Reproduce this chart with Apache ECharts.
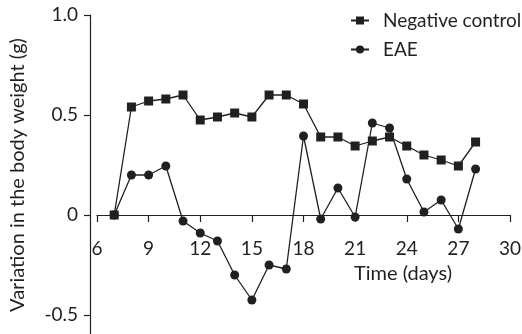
<!DOCTYPE html>
<html>
<head>
<meta charset="utf-8">
<script src="https://cdn.jsdelivr.net/npm/echarts@6/dist/echarts.min.js"></script>
<style>
  html, body { margin: 0; padding: 0; background: #fff; }
  #main { width: 522px; height: 334px; }
</style>
</head>
<body>
<div id="main"></div>
<script>
// days of measurement
var days = [7, 8, 9, 10, 11, 12, 13, 14, 15, 16, 17, 18, 19, 20, 21, 22, 23, 24, 25, 26, 27, 28];
// variation in body weight (g)
var negativeControl = [0, 0.54, 0.57, 0.58, 0.60, 0.475, 0.49, 0.51, 0.49, 0.60, 0.60, 0.555, 0.39, 0.39, 0.345, 0.37, 0.39, 0.345, 0.30, 0.275, 0.245, 0.365];
var eae = [0, 0.20, 0.20, 0.245, -0.03, -0.09, -0.13, -0.30, -0.425, -0.25, -0.27, 0.395, -0.02, 0.135, -0.01, 0.46, 0.435, 0.18, 0.015, 0.075, -0.07, 0.23];
var yTicks = [-0.5, 0, 0.5, 1.0];

var ink = '#231f20';
var font = 'Lato';

var myChart = echarts.init(document.getElementById('main'));

function pairs(vals) {
  return days.map(function (d, i) { return [d, vals[i]]; });
}

var option = {
  animation: false,
  textStyle: { fontFamily: font, color: ink },
  legend: {
    orient: 'vertical',
    left: 345,
    top: 6,
    itemWidth: 18,
    itemHeight: 10,
    itemGap: 10,
    textStyle: { fontFamily: font, fontSize: 19, color: ink, padding: [0, 0, 0, 9] },
    data: ['Negative control', 'EAE']
  },
  grid: { left: 97, right: 12, top: 15, bottom: -1, outerBoundsMode: 'none', containLabel: false },
  xAxis: {
    type: 'value',
    min: 6,
    max: 30,
    interval: 3,
    // x axis sits at y = 0 (grid is 200px per unit, 0 is 120px above the bottom)
    offset: -120,
    splitLine: { show: false },
    axisLine: { onZero: false, lineStyle: { color: ink, width: 1.2 } },
    axisTick: { length: 7, lineStyle: { color: ink, width: 1.2 } },
    axisLabel: { margin: 24, fontSize: 19, color: ink, fontFamily: font }
  },
  yAxis: {
    type: 'value',
    min: -0.6,
    max: 1.0,
    offset: 7,
    splitLine: { show: false },
    axisLine: { show: true, onZero: false, lineStyle: { color: ink, width: 1.2 } },
    axisTick: { show: true, length: 6, customValues: yTicks, lineStyle: { color: ink, width: 1.2 } },
    axisLabel: {
      margin: 12, fontSize: 19, color: ink, fontFamily: font,
      customValues: yTicks,
      formatter: function (v) { return v === 0 ? '0' : v.toFixed(1); }
    },
    name: 'Variation in the body weight (g)',
    nameLocation: 'middle',
    nameGap: 62,
    nameTextStyle: { fontSize: 20, color: ink, fontFamily: font }
  },
  graphic: [{
    type: 'text',
    x: 403,
    y: 274,
    style: {
      text: 'Time (days)',
      fontSize: 20,
      fontFamily: font,
      fill: ink,
      align: 'center',
      verticalAlign: 'middle'
    }
  }],
  series: [{
    name: 'Negative control',
    type: 'line',
    z: 3,
    symbol: 'rect',
    symbolSize: 9,
    itemStyle: { color: ink },
    lineStyle: { color: ink, width: 1.3 },
    data: pairs(negativeControl)
  }, {
    name: 'EAE',
    type: 'line',
    z: 2,
    symbol: 'circle',
    symbolSize: 9,
    itemStyle: { color: ink },
    lineStyle: { color: ink, width: 1.3 },
    data: pairs(eae)
  }]
};

myChart.setOption(option);
</script>
</body>
</html>
